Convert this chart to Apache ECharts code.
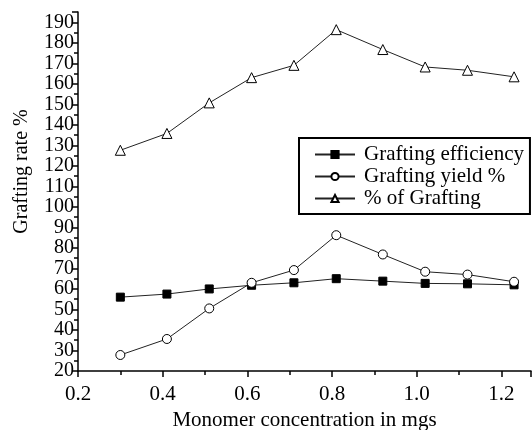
<!DOCTYPE html>
<html>
<head>
<meta charset="utf-8">
<script src="https://cdn.jsdelivr.net/npm/echarts@6/dist/echarts.min.js"></script>
<style>
  html, body { margin: 0; padding: 0; background: #fff; }
  #my_chart { width: 532px; height: 430px; }
</style>
</head>
<body>
<div id="my_chart"></div>
<script>
// 单体浓度 (mgs)
const monomerConc = [0.30, 0.41, 0.51, 0.61, 0.71, 0.81, 0.92, 1.02, 1.12, 1.23];
// 三条曲线
const graftingEfficiency = [56, 57.5, 60, 61.8, 63, 65, 63.8, 62.7, 62.5, 62];
const graftingYield = [27.8, 35.6, 50.5, 63, 69.2, 86.2, 76.8, 68.4, 67, 63.5];
const percentGrafting = [127.6, 135.8, 150.7, 163, 169, 186.4, 176.7, 168.2, 166.6, 163.4];
const seriesNames = ["Grafting efficiency", "Grafting yield %", "% of Grafting"];

const serif = "'Liberation Serif', 'DejaVu Serif', serif";

function pairs(ys) {
  return monomerConc.map((x, i) => [x, ys[i]]);
}

let chart = echarts.init(document.getElementById("my_chart"));
let option = {
  animation: false,
  grid: { left: 78, right: 1, top: 12, bottom: 59, outerBoundsMode: "none", containLabel: false },
  xAxis: {
    type: "value",
    min: 0.2,
    max: 1.27,
    interval: 0.2,
    name: "Monomer concentration in mgs",
    nameLocation: "middle",
    nameGap: 38,
    nameTextStyle: { fontFamily: serif, fontSize: 21, color: "#000" },
    axisLine: { show: true, lineStyle: { color: "#000", width: 1.5 } },
    axisTick: { show: true, inside: false, length: 6, lineStyle: { color: "#000", width: 1.5 } },
    minorTick: { show: true, splitNumber: 2, length: 4, lineStyle: { color: "#000", width: 1.5 } },
    splitLine: { show: false },
    axisLabel: {
      fontFamily: serif,
      fontSize: 21,
      color: "#000",
      margin: 13,
      showMaxLabel: false,
      formatter: (v) => v.toFixed(1), // 保留一位小数
    },
  },
  yAxis: {
    type: "value",
    min: 20,
    max: 195,
    interval: 10,
    name: "Grafting rate %",
    nameLocation: "middle",
    nameGap: 46,
    nameTextStyle: { fontFamily: serif, fontSize: 20, color: "#000", padding: [0, 0, 0, 40] },
    axisLine: { show: true, lineStyle: { color: "#000", width: 1.5 } },
    axisTick: { show: true, inside: false, length: 6, lineStyle: { color: "#000", width: 1.5 } },
    minorTick: { show: true, splitNumber: 2, length: 4, lineStyle: { color: "#000", width: 1.5 } },
    splitLine: { show: false },
    axisLabel: {
      fontFamily: serif,
      fontSize: 20,
      color: "#000",
      margin: 4,
      showMaxLabel: false,
    },
  },
  legend: {
    orient: "vertical",
    left: 299,
    top: 138,
    padding: [6, 6, 5, 15],
    itemGap: 1,
    itemWidth: 40,
    itemHeight: 9,
    borderColor: "#000",
    borderWidth: 2,
    borderRadius: 0,
    backgroundColor: "#fff",
    textStyle: { fontFamily: serif, fontSize: 21, color: "#000", padding: [0, 0, 0, 4] },
    data: seriesNames,
  },
  series: [
    {
      name: seriesNames[0],
      type: "line",
      data: pairs(graftingEfficiency),
      symbol: "rect",
      symbolSize: 8,
      lineStyle: { color: "#222", width: 1 },
      itemStyle: { color: "#000", borderColor: "#000", borderWidth: 1 },
    },
    {
      name: seriesNames[1],
      type: "line",
      data: pairs(graftingYield),
      symbol: "circle",
      symbolSize: 9,
      lineStyle: { color: "#222", width: 1 },
      itemStyle: { color: "#fff", borderColor: "#000", borderWidth: 1 },
    },
    {
      name: seriesNames[2],
      type: "line",
      data: pairs(percentGrafting),
      symbol: "triangle",
      symbolSize: 10,
      lineStyle: { color: "#222", width: 1 },
      itemStyle: { color: "#fff", borderColor: "#000", borderWidth: 1 },
    },
  ],
};
chart.setOption(option);
</script>
</body>
</html>
